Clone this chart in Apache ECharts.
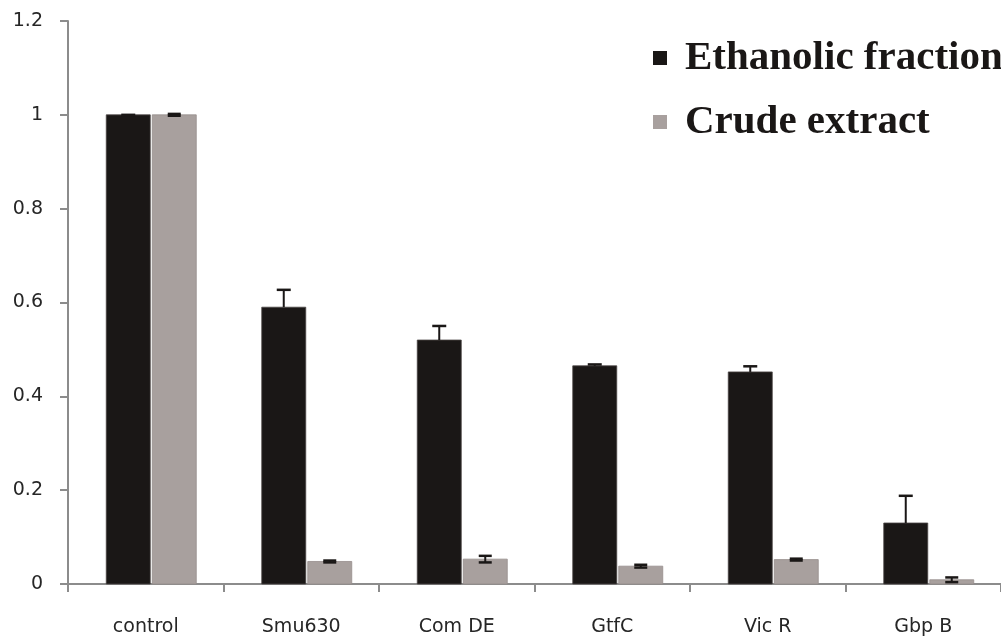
<!DOCTYPE html>
<html><head><meta charset="utf-8">
<script src="https://cdn.jsdelivr.net/npm/echarts@6/dist/echarts.min.js"></script>
<style>html,body{margin:0;padding:0;background:#fff}#c{width:1001px;height:638px}</style>
</head><body><div id="c"></div>
<script>
const categories = ['control', 'Smu630', 'Com DE', 'GtfC', 'Vic R', 'Gbp B'];
const ethanolic = [1.0, 0.59, 0.52, 0.465, 0.452, 0.13];
const ethanolicErr = [0, 0.037, 0.03, 0.003, 0.012, 0.058];
const crude = [1.0, 0.048, 0.053, 0.038, 0.052, 0.009];
const crudeErr = [0.002, 0.002, 0.007, 0.003, 0.002, 0.005];
const yTicks = [0, 0.2, 0.4, 0.6, 0.8, 1, 1.2];

const BAR_W = 44;
const OFF_ETH = -17.5, OFF_CRUDE = 28.5;
const chart = echarts.init(document.getElementById('c'));

function barSeries(name, vals, off, color, border) {
  return {
    name: name,
    type: 'custom',
    itemStyle: { color: color },
    encode: { x: 0, y: 1 },
    data: vals.map((v, i) => [i, v]),
    renderItem: function (params, api) {
      const top = api.coord([api.value(0), api.value(1)]);
      const base = api.coord([api.value(0), 0]);
      const x = top[0] + off - BAR_W / 2;
      return {
        type: 'rect',
        shape: { x: x, y: top[1], width: BAR_W, height: base[1] - top[1] },
        style: { fill: color, stroke: border, lineWidth: 0.8 }
      };
    }
  };
}

function errSeries(vals, errs, off, both, capW) {
  return {
    type: 'custom',
    z: 10,
    silent: true,
    encode: { x: 0, y: 1 },
    data: vals.map((v, i) => [i, v, errs[i]]),
    renderItem: function (params, api) {
      const i = api.value(0), v = api.value(1), e = api.value(2);
      const top = api.coord([i, v + e]);
      const bot = api.coord([i, both ? v - e : v]);
      const x = top[0] + off;
      const st = { stroke: '#1a1716', lineWidth: 2 };
      const cst = { stroke: '#1a1716', lineWidth: 2.5 };
      const children = [
        { type: 'line', shape: { x1: x, y1: top[1], x2: x, y2: bot[1] }, style: st },
        { type: 'line', shape: { x1: x - capW / 2, y1: top[1], x2: x + capW / 2, y2: top[1] }, style: cst }
      ];
      if (both) children.push({ type: 'line', shape: { x1: x - capW / 2, y1: bot[1], x2: x + capW / 2, y2: bot[1] }, style: cst });
      return { type: 'group', children: children };
    }
  };
}

chart.setOption({
  animation: false,
  backgroundColor: '#ffffff',
  grid: { left: 68, top: 21, width: 933, height: 563, containLabel: false },
  legend: {
    orient: 'vertical',
    left: 653,
    top: 35,
    padding: 0,
    itemWidth: 14,
    itemHeight: 14,
    itemGap: 18,
    icon: 'rect',
    data: ['Ethanolic fraction', 'Crude extract'],
    textStyle: {
      fontFamily: 'Liberation Serif',
      fontWeight: 'bold',
      fontSize: 41,
      lineHeight: 46,
      color: '#1a1716',
      padding: [0, 0, 0, 13]
    }
  },
  xAxis: {
    type: 'category',
    data: categories,
    axisLine: { lineStyle: { color: '#8c8c8c', width: 2 } },
    axisTick: { show: true, length: 8, lineStyle: { color: '#8c8c8c', width: 2 } },
    axisLabel: { margin: 34, fontFamily: 'DejaVu Sans', fontSize: 19, color: '#262626' },
    splitLine: { show: false }
  },
  yAxis: {
    type: 'value',
    min: 0, max: 1.2, interval: 0.2,
    axisLine: { show: true, lineStyle: { color: '#8c8c8c', width: 2 } },
    axisTick: { show: true, length: 8, lineStyle: { color: '#8c8c8c', width: 2 } },
    axisLabel: {
      margin: 25, fontFamily: 'DejaVu Sans', fontSize: 19, color: '#262626',
      formatter: function (v) { const t = yTicks.find(x => Math.abs(x - v) < 1e-9); return String(t !== undefined ? t : v); }
    },
    splitLine: { show: false }
  },
  series: [
    barSeries('Ethanolic fraction', ethanolic, OFF_ETH, '#1a1716', '#4a4544'),
    barSeries('Crude extract', crude, OFF_CRUDE, '#a8a09e', '#958d8b'),
    errSeries(ethanolic, ethanolicErr, OFF_ETH, false, 14),
    errSeries(crude, crudeErr, OFF_CRUDE, true, 13)
  ]
});
</script></body></html>
